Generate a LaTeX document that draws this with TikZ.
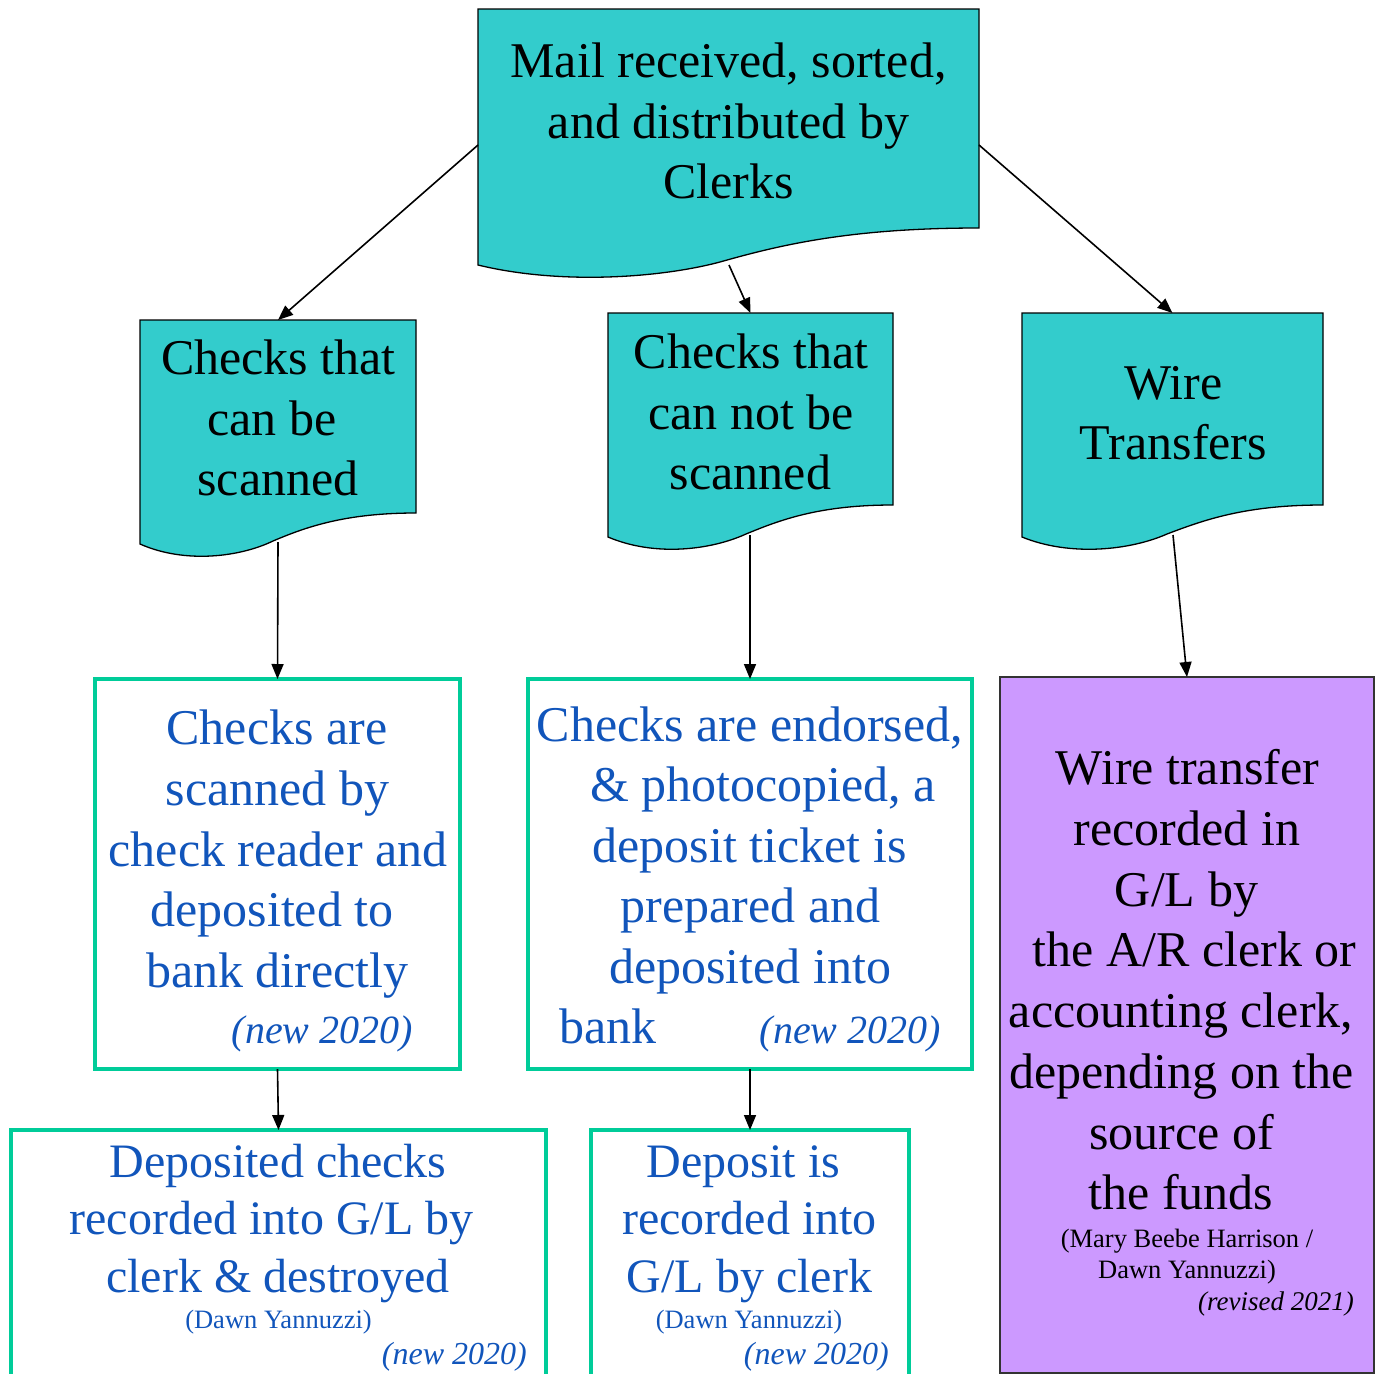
\documentclass[tikz,border=0pt]{standalone}
\usepackage{fontspec}
\setmainfont{Liberation Serif}
\usetikzlibrary{arrows.meta}
\definecolor{teal1}{HTML}{33CCCC}
\definecolor{green1}{HTML}{00CC99}
\definecolor{purp}{HTML}{CC99FF}
\definecolor{blue1}{HTML}{1155BB}
\tikzset{
  docfill/.style={fill=teal1, draw=black, line width=1.3pt},
  anch/.style={inner sep=0pt, outer sep=0pt, draw=none, rectangle},
  gbox/.style={draw=green1, line width=4pt, fill=white, inner sep=0pt, outer sep=0pt, rectangle},
  pbox/.style={fill=purp, draw=black!80, line width=1.5pt, inner sep=0pt, outer sep=0pt, rectangle},
  big/.style={font=\fontsize{50}{60}\selectfont, inner sep=0pt, anchor=base},
  mid/.style={font=\fontsize{48}{58}\selectfont, inner sep=0pt, anchor=base},
  small/.style={font=\fontsize{26.5}{32}\selectfont, inner sep=0pt, anchor=base},
  newbig/.style={font=\fontsize{40}{48}\selectfont\itshape, inner sep=0pt, anchor=base east},
  newsmall/.style={font=\fontsize{32}{38}\selectfont\itshape, inner sep=0pt, anchor=base east},
  conn/.style={line width=1.6pt, -{Triangle[length=15pt,width=12pt]}},
}
\begin{document}
\begin{tikzpicture}[x=1pt,y=-1pt]
\clip (0,0) rectangle (1377,1374);
\fill[white] (0,0) rectangle (1377,1374);

% ---- document shapes
\draw[docfill] (478,9) -- (979,9) -- (979,228)
  .. controls (850,228) and (780,245) .. (720,262)
  .. controls (660,278) and (560,285) .. (478,265) -- cycle;
\draw[docfill] (140,320) -- (416,320) -- (416,513)
  .. controls (345,513) and (306,527) .. (273,541)
  .. controls (240,557) and (185,564) .. (140,544) -- cycle;
\draw[docfill] (608,313) -- (893,313) -- (893,505)
  .. controls (819,505) and (780,520) .. (746,534)
  .. controls (711,550) and (655,557) .. (608,537) -- cycle;
\draw[docfill] (1022,313) -- (1323,313) -- (1323,505)
  .. controls (1245,505) and (1204,520) .. (1167,534)
  .. controls (1131,550) and (1071,557) .. (1022,537) -- cycle;

% anchor nodes for the document shapes
\node[anch, minimum width=501pt, minimum height=272pt] (mail) at (728.5,145) {};
\node[anch, minimum width=276pt, minimum height=224pt] (d1) at (278,432) {};
\node[anch, minimum width=285pt, minimum height=224pt] (d2) at (750.5,425) {};
\node[anch, minimum width=301pt, minimum height=224pt] (d3) at (1172.5,425) {};
\coordinate (mailb) at (729,265);
\coordinate (d1b) at (278,542);
\coordinate (d2b) at (750,535);
\coordinate (d3b) at (1173,535);

% ---- boxes
\node[gbox, minimum width=365pt, minimum height=390pt] (g1) at (277.5,874) {};
\node[gbox, minimum width=444pt, minimum height=390pt] (g2) at (750,874) {};
\node[gbox, minimum width=535pt, minimum height=270pt] (g3) at (278.5,1265) {};
\node[gbox, minimum width=318pt, minimum height=270pt] (g4) at (750,1265) {};
\node[pbox, minimum width=374pt, minimum height=696pt] (wb) at (1187,1025) {};

% ---- connectors
\draw[conn] (mail.west) -- (d1.north);
\draw[conn] (mailb) -- (d2.north);
\draw[conn] (mail.east) -- (d3.north);
\draw[conn] (d1b) -- (g1.north);
\draw[conn] (d2b) -- (g2.north);
\draw[conn] (d3b) -- (wb.north);
\draw[conn] (g1.south) -- (g3.north);
\draw[conn] (g2.south) -- (g4.north);

% ---- texts: top
\node[big] (ta) at (728.5,77) {Mail received, sorted,};
\node[big] (tb) at (728.5,138) {and distributed by};
\node[big] (tc) at (728.5,198) {Clerks};
% doc1
\node[big] (d1a) at (278.5,374) {Checks that};
\node[big] (d1bt) at (272,435) {can be};
\node[big] (d1c) at (278,495) {scanned};
% doc2
\node[big] (d2a) at (751,368) {Checks that};
\node[big] (d2bt) at (751,429) {can not be};
\node[big] (d2c) at (750.5,489) {scanned};
% doc3
\node[big] (d3a) at (1173.5,399) {Wire};
\node[big] (d3bt) at (1173.5,459) {Transfers};

% g1
\begin{scope}[blue1]
\node[big, text=blue1] (g1a) at (277,744) {Checks are};
\node[big, text=blue1] (g1b) at (277.5,805) {scanned by};
\node[big, text=blue1] (g1c) at (278,866) {check reader and};
\node[big, text=blue1] (g1d) at (272,926) {deposited to};
\node[big, text=blue1] (g1e) at (277.5,987) {bank directly};
\node[newbig, text=blue1] (g1f) at (413,1043) {(new 2020)};
% g2
\node[big, text=blue1] (g2a) at (750,741) {Checks are endorsed,};
\node[big, text=blue1] (g2b) at (763,801) {\& photocopied, a};
\node[big, text=blue1] (g2c) at (749.5,862) {deposit ticket is};
\node[big, text=blue1] (g2d) at (750.5,922) {prepared and};
\node[big, text=blue1] (g2e) at (750,983) {deposited into};
\node[big, text=blue1, anchor=base west] (g2f) at (559,1043) {bank};
\node[newbig, text=blue1] (g2g) at (941,1043) {(new 2020)};
% g3
\node[mid, text=blue1] (g3a) at (278,1177) {Deposited checks};
\node[mid, text=blue1] (g3b) at (271.5,1234) {recorded into G/L by};
\node[mid, text=blue1] (g3c) at (278,1292) {clerk \& destroyed};
\node[small, text=blue1] (g3d) at (278.5,1328) {(Dawn Yannuzzi)};
\node[newsmall, text=blue1] (g3e) at (527,1364) {(new 2020)};
% g4
\node[mid, text=blue1] (g4a) at (743.5,1177) {Deposit is};
\node[mid, text=blue1] (g4b) at (749.5,1234) {recorded into};
\node[mid, text=blue1] (g4c) at (749.5,1292) {G/L by clerk};
\node[small, text=blue1] (g4d) at (749,1328) {(Dawn Yannuzzi)};
\node[newsmall, text=blue1] (g4e) at (889,1364) {(new 2020)};
\end{scope}

% purple box
\node[big] (w1) at (1187.5,784) {Wire transfer};
\node[big] (w2) at (1187,845) {recorded in};
\node[big] (w3) at (1186.5,906) {G/L by};
\node[big] (w4) at (1194.5,966) {the A/R clerk or};
\node[big] (w5) at (1181,1027) {accounting clerk,};
\node[big] (w6) at (1181.5,1088) {depending on the};
\node[big] (w7) at (1181.5,1149) {source of};
\node[big] (w8) at (1181,1209) {the funds};
\node[small] (w9) at (1187,1247) {(Mary Beebe Harrison /};
\node[small] (w10) at (1187,1278) {Dawn Yannuzzi)};
\node[font=\fontsize{27}{32}\selectfont\itshape, inner sep=0pt, anchor=base east] (w11) at (1354,1310) {(revised 2021)};
\end{tikzpicture}
\end{document}
